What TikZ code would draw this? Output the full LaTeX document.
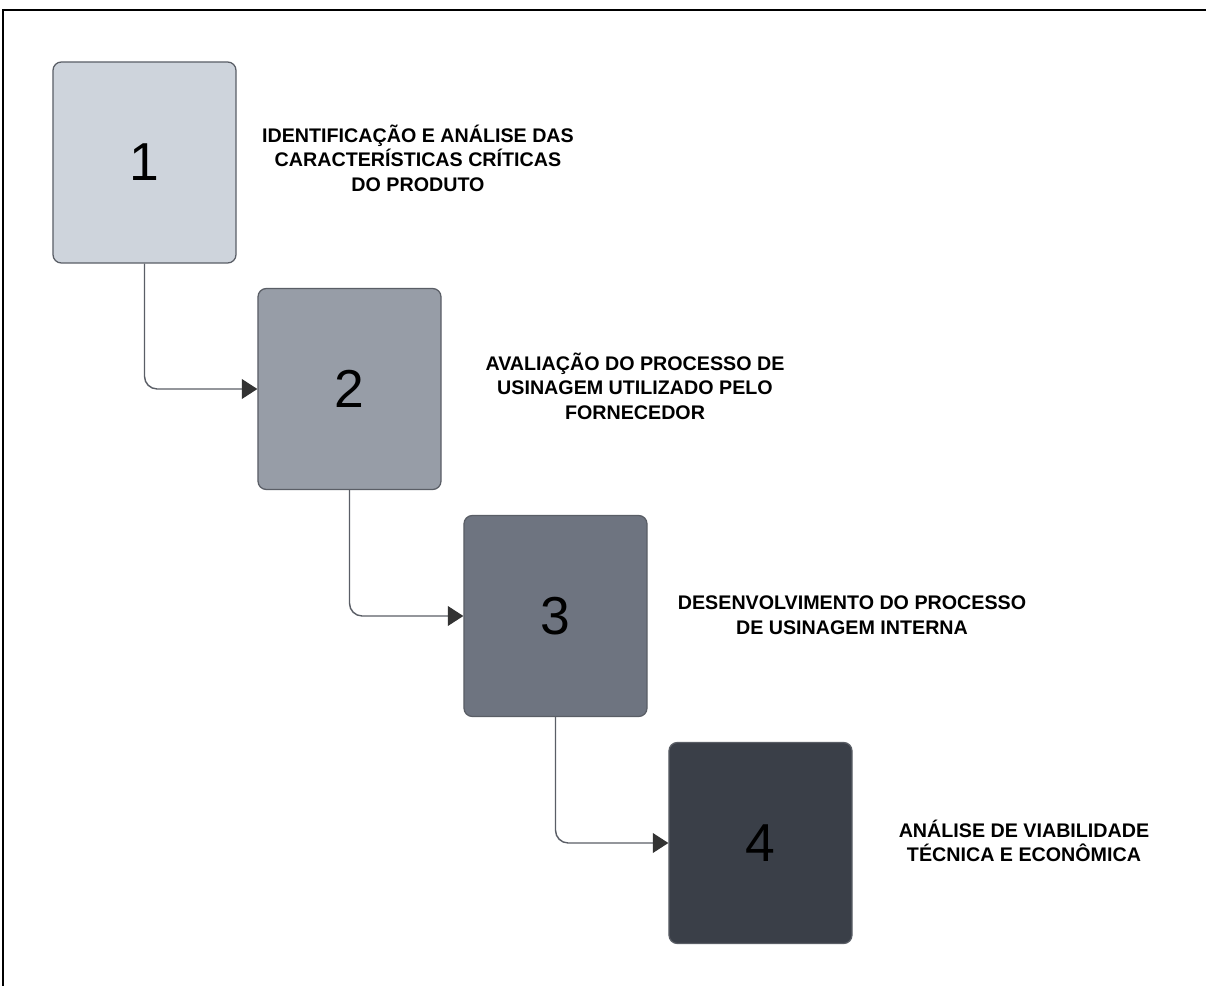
\documentclass[tikz,border=0pt]{standalone}
\usepackage{fontspec}
\setmainfont{Liberation Sans}
\usepackage{tikz}
\usetikzlibrary{arrows.meta}
\definecolor{stepA}{HTML}{CED4DC}
\definecolor{stepB}{HTML}{979DA7}
\definecolor{stepC}{HTML}{6E7480}
\definecolor{stepD}{HTML}{3A3F48}
\definecolor{edgegray}{HTML}{5A5E66}
\tikzset{
  stepbox/.style={draw=edgegray, line width=0.9pt, rounded corners=6pt,
    minimum width=4.575cm, minimum height=5.025cm, inner sep=0pt,
    font=\fontsize{38}{40}\selectfont},
  steptext/.style={align=center, font=\fontsize{14}{17.4}\selectfont\bfseries},
  conn/.style={draw=edgegray, line width=1pt, rounded corners=9pt,
    -{Triangle[length=11pt,width=14pt,fill=black!80,color=black!80]}}
}
\begin{document}
\begin{tikzpicture}[x=0.025cm,y=-0.025cm]
  \useasboundingbox (0,0) rectangle (1206,986);
  % frame
  \draw[line width=1.4pt] (3,990) -- (3,10) -- (1210,10);
  % steps
  \node[stepbox, fill=stepA] (b1) at (144.5,162.5) {1};
  \node[stepbox, fill=stepB] (b2) at (349.5,389) {2};
  \node[stepbox, fill=stepC] (b3) at (555.5,616) {3};
  \node[stepbox, fill=stepD] (b4) at (760.5,843) {4};
  % labels
  \node[steptext] (t1) at (418,158) {IDENTIFICAÇÃO E ANÁLISE DAS\\CARACTERÍSTICAS CRÍTICAS\\DO PRODUTO};
  \node[steptext] (t2) at (635,386) {AVALIAÇÃO DO PROCESSO DE\\USINAGEM UTILIZADO PELO\\FORNECEDOR};
  \node[steptext] (t3) at (852,615) {DESENVOLVIMENTO DO PROCESSO\\DE USINAGEM INTERNA};
  \node[steptext] (t4) at (1024,841) {ANÁLISE DE VIABILIDADE\\TÉCNICA E ECONÔMICA};
  % connectors
  \draw[conn] (b1.south) |- (b2.west);
  \draw[conn] (b2.south) |- (b3.west);
  \draw[conn] (b3.south) |- (b4.west);
\end{tikzpicture}
\end{document}
